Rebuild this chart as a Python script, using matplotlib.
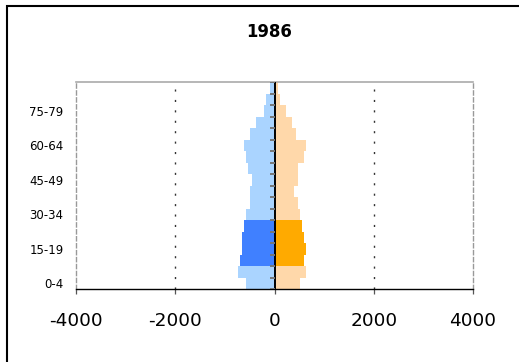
import numpy as np
import matplotlib.pyplot as plt
from matplotlib.patches import Rectangle

plt.rcParams["font.family"] = ["DejaVu Sans"]

# Five-year age groups, youngest first
age_groups = [
    "0-4", "5-9", "10-14", "15-19", "20-24", "25-29", "30-34", "35-39",
    "40-44", "45-49", "50-54", "55-59", "60-64", "65-69", "70-74",
    "75-79", "80-84", "85+",
]
male = [573, 735, 694, 654, 654, 613, 573, 492, 492,
        451, 532, 573, 613, 492, 370, 208, 168, 87]
female = [520, 642, 601, 642, 601, 561, 520, 480, 399,
          480, 480, 601, 642, 439, 358, 237, 115, 75]
highlight = ["10-14", "15-19", "20-24", "25-29"]
shown_labels = ["0-4", "15-19", "30-34", "45-49", "60-64", "75-79"]
x_ticks = [-4000, -2000, 0, 2000, 4000]
year = "1986"

male_light, male_dark = "#aad4ff", "#4080ff"
female_light, female_dark = "#ffd8aa", "#ffaa00"

fig = plt.figure(figsize=(5.19, 3.62), dpi=100)
ax = fig.add_axes([76 / 519, 1 - 289 / 362, 397 / 519, 207 / 362])

y = np.arange(len(age_groups))
is_hl = np.array([g in highlight for g in age_groups])

ax.barh(y, -np.array(male), height=1.0,
        color=np.where(is_hl, male_dark, male_light), linewidth=0, zorder=2)
ax.barh(y, female, height=1.0,
        color=np.where(is_hl, female_dark, female_light), linewidth=0, zorder=2)

ax.set_xlim(-4000, 4000)
ax.set_ylim(-0.5, len(age_groups) - 0.5)

# dotted gridlines at +/-2000
for gx in (-2000, 2000):
    ax.axvline(gx, color="#333333", linewidth=1.0,
               linestyle=(0, (1.5, 6)), zorder=1)

# centre axis with small ticks at each age-group boundary
ax.axvline(0, color="black", linewidth=1.4, zorder=4)
bounds = np.arange(len(age_groups) + 1) - 0.5
ax.hlines(bounds, -90, 0, color="#777777", linewidth=1.4, zorder=4)

# spines
for side in ("left", "right"):
    ax.spines[side].set_color("#999999")
    ax.spines[side].set_linestyle((0, (3, 2)))
    ax.spines[side].set_linewidth(1.0)
ax.spines["top"].set_color("#aaaaaa")
ax.spines["top"].set_linewidth(1.2)
ax.spines["bottom"].set_color("black")
ax.spines["bottom"].set_linewidth(1.0)

ax.set_xticks(x_ticks)
ax.set_xticklabels([str(t) for t in x_ticks], fontsize=13.3)
ax.tick_params(axis="x", direction="out", length=3.5, width=0.9,
               color="#555555", pad=13)

ax.set_yticks([age_groups.index(g) for g in shown_labels])
ax.set_yticklabels(shown_labels, fontsize=8.5)
ax.tick_params(axis="y", length=0, pad=9)

fig.text(269 / 519, 1 - 32 / 362, year, ha="center", va="center",
         fontsize=11.9, fontweight="bold")

# outer chart frame
fig.patches.append(Rectangle((7 / 519, -0.2), 1.2, 1.2 - 6 / 362,
                             transform=fig.transFigure, fill=False,
                             edgecolor="black", linewidth=1.5))

fig.savefig("out.png", dpi=100)
